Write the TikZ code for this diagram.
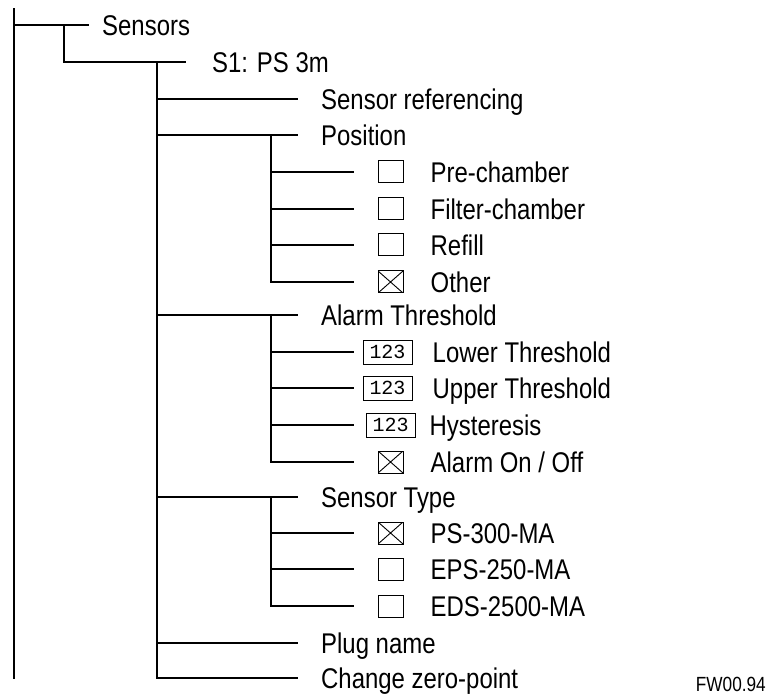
\documentclass[tikz,border=0pt]{standalone}
\usepackage{fontspec}
\setmainfont{Liberation Sans}[FakeStretch=0.84]
\newfontfamily\zahlfont{Liberation Mono}
\usetikzlibrary{positioning}
\newcommand{\entryfont}{\fontsize{28.5}{30}\selectfont}

\begin{document}
\begin{tikzpicture}[x=1pt,y=-1pt,
branch/.style={line width=2.7pt,line cap=rect},
entry/.style={anchor=west,inner sep=0pt,font=\entryfont,text height=20.4pt,text depth=0pt},
checkbox/.style={draw,line width=1pt,minimum width=25pt,minimum height=22pt,inner sep=0pt},
checked/.style={checkbox,path picture={\draw[line width=0.9pt] (path picture bounding box.north west) -- (path picture bounding box.south east) (path picture bounding box.south west) -- (path picture bounding box.north east);}},
numbox/.style={draw,line width=1pt,minimum width=49pt,minimum height=24pt,inner sep=0pt,font=\zahlfont\fontsize{20}{21}\selectfont}
]
\useasboundingbox (0,0) rectangle (769,695);

\coordinate (top) at (14,9);
\coordinate (bottom) at (14,678);
\node[entry] (sensors) at (102,25) {Sensors};
\node[entry] (s1) at (212,62) {S1: PS 3m};
\node[entry] (sref) at (321,99) {Sensor referencing};
\node[entry] (pos) at (321,135) {Position};

\node[checkbox] (bpre) at (390.5,172) {};
\node[entry,right=27pt of bpre] (pre) {Pre-chamber};
\node[checkbox] (bfilt) at (390.5,209) {};
\node[entry,right=27pt of bfilt] (filt) {Filter-chamber};
\node[checkbox] (brefill) at (390.5,245) {};
\node[entry,right=27pt of brefill] (refill) {Refill};
\node[checked] (bother) at (390.5,282) {};
\node[entry,right=27pt of bother] (other) {Other};

\node[entry] (alarm) at (321,315) {Alarm Threshold};
\node[numbox] (blower) at (387.5,352) {123};
\node[entry,right=20pt of blower] (lower) {Lower Threshold};
\node[numbox] (bupper) at (387.5,388) {123};
\node[entry,right=20pt of bupper] (upper) {Upper Threshold};
\node[numbox] (bhyst) at (390.5,425) {123};
\node[entry,right=14pt of bhyst] (hyst) {Hysteresis};
\node[checked] (bonoff) at (390.5,462) {};
\node[entry,right=27pt of bonoff] (onoff) {Alarm On / Off};

\node[entry] (stype) at (321,497) {Sensor Type};
\node[checked] (bps) at (390.5,533) {};
\node[entry,right=27pt of bps] (ps) {PS-300-MA};
\node[checkbox] (beps) at (390.5,569) {};
\node[entry,right=27pt of beps] (eps) {EPS-250-MA};
\node[checkbox] (beds) at (390.5,606) {};
\node[entry,right=27pt of beds] (eds) {EDS-2500-MA};

\node[entry] (plug) at (321,643) {Plug name};
\node[entry] (zero) at (321,678) {Change zero-point};

\node[anchor=base east,inner sep=0pt,font=\fontsize{20.5}{22}\selectfont] (fw) at (766,691) {FW00.94};

% tree lines
\draw[branch] (top) -- (bottom);
\draw[branch] (top |- sensors) -- ([xshift=-14pt]sensors.west);
\coordinate (t1) at (64,25);
\draw[branch] (t1) |- ([xshift=-27pt]s1.west);
\coordinate (t2) at (157,62);
\draw[branch] (t2) |- ([xshift=-24pt]zero.west);
\draw[branch] (t2 |- sref) -- ([xshift=-24pt]sref.west);
\draw[branch] (t2 |- pos) -- ([xshift=-24pt]pos.west);
\draw[branch] (t2 |- alarm) -- ([xshift=-24pt]alarm.west);
\draw[branch] (t2 |- stype) -- ([xshift=-24pt]stype.west);
\draw[branch] (t2 |- plug) -- ([xshift=-24pt]plug.west);

\coordinate (t3) at (271,135);
\draw[branch] (t3) |- ([xshift=-25pt]bother.west);
\draw[branch] (t3 |- bpre) -- ([xshift=-25pt]bpre.west);
\draw[branch] (t3 |- bfilt) -- ([xshift=-25pt]bfilt.west);
\draw[branch] (t3 |- brefill) -- ([xshift=-25pt]brefill.west);

\coordinate (t4) at (271,315);
\draw[branch] (t4) |- ([xshift=-25pt]bonoff.west);
\draw[branch] (t4 |- blower) -- ([xshift=-10pt]blower.west);
\draw[branch] (t4 |- bupper) -- ([xshift=-10pt]bupper.west);
\draw[branch] (t4 |- bhyst) -- ([xshift=-13pt]bhyst.west);

\coordinate (t5) at (271,497);
\draw[branch] (t5) |- ([xshift=-25pt]beds.west);
\draw[branch] (t5 |- bps) -- ([xshift=-25pt]bps.west);
\draw[branch] (t5 |- beps) -- ([xshift=-25pt]beps.west);
\end{tikzpicture}
\end{document}
